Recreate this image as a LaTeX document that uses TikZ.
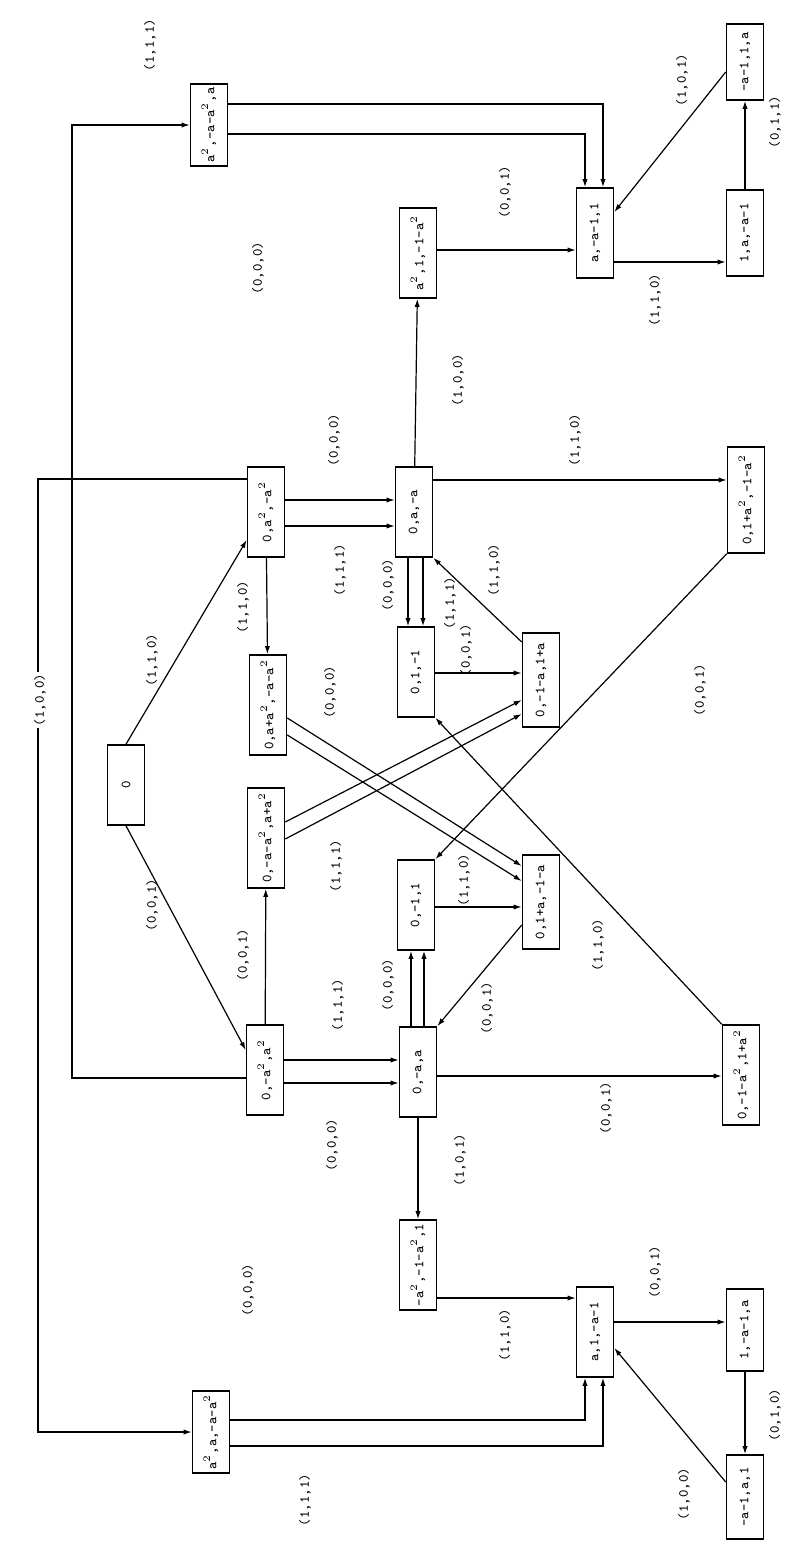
\documentclass[tikz,border=0pt]{standalone}
\usepackage{graphicx}
\usetikzlibrary{arrows.meta}
\newcommand{\rot}[1]{\rotatebox{90}{#1}}

\begin{document}
\begin{tikzpicture}[x=0.5pt, y=-0.5pt, font=\ttfamily\fontsize{7}{8}\selectfont,
  state/.style={draw, line width=0.8pt, minimum width=18.5pt, minimum height=45pt, inner sep=1pt},
  lbl/.style={inner sep=1pt},
  flow/.style={-{Latex[length=4pt,width=2.6pt]}, line width=0.6pt}]
\useasboundingbox (0,0) rectangle (789,1562);
% states
\node[state, minimum height=40pt] (n0) at (126,785) {\rot{0}};
\node[state] (nB) at (266,512) {\rot{0,a$^2$,-a$^2$}};
\node[state] (nA) at (265,1070) {\rot{0,-a$^2$,a$^2$}};
\node[state, minimum height=50pt] (n5) at (268,705) {\rot{0,a+a$^2$,-a-a$^2$}};
\node[state, minimum height=50pt] (n4) at (266,838) {\rot{0,-a-a$^2$,a+a$^2$}};
\node[state] (nD) at (414,512) {\rot{0,a,-a}};
\node[state] (nC) at (418,1072) {\rot{0,-a,a}};
\node[state] (n9) at (416,672) {\rot{0,1,-1}};
\node[state] (n8) at (416,905) {\rot{0,-1,1}};
\node[state, minimum height=47pt] (n11) at (541,680) {\rot{0,-1-a,1+a}};
\node[state, minimum height=47pt] (n10) at (541,902) {\rot{0,1+a,-1-a}};
\node[state, minimum height=53pt] (n13) at (746,500) {\rot{0,1+a$^2$,-1-a$^2$}};
\node[state, minimum height=50pt] (n12) at (741,1075) {\rot{0,-1-a$^2$,1+a$^2$}};
\node[state] (n15) at (418,253) {\rot{a$^2$,1,-1-a$^2$}};
\node[state] (n14) at (418,1265) {\rot{-a$^2$,-1-a$^2$,1}};
\node[state, minimum height=41pt] (n17) at (209,125) {\rot{a$^2$,-a-a$^2$,a}};
\node[state, minimum height=41pt] (n16) at (211,1432) {\rot{a$^2$,a,-a-a$^2$}};
\node[state] (n19) at (595,233) {\rot{a,-a-1,1}};
\node[state] (n18) at (595,1332) {\rot{a,1,-a-1}};
\node[state, minimum height=43pt] (n22) at (745,233) {\rot{1,a,-a-1}};
\node[state, minimum height=41pt] (n20) at (745,1330) {\rot{1,-a-1,a}};
\node[state, minimum height=38pt] (n23) at (745,62) {\rot{-a-1,1,a}};
\node[state, minimum height=42pt] (n21) at (745,1497) {\rot{-a-1,a,1}};
% start
\draw[flow] (n0.south) -- (nA.west |- 0,1050);
\draw[flow] (n0.north) -- (nB.west |- 0,540);
\node[lbl] (l1) at (152,905) {\rot{(0,0,1)}};
\node[lbl] (l2) at (152,660) {\rot{(1,1,0)}};
% second column
\draw[flow] (nA.east |- 0,1060) -- (nC.west |- 0,1060);
\draw[flow] (nA.east |- 0,1083) -- (nC.west |- 0,1083);
\draw[flow] (nB.east |- 0,500) -- (nD.west |- 0,500);
\draw[flow] (nB.east |- 0,526) -- (nD.west |- 0,526);
\node[lbl] (l3) at (338,1005) {\rot{(1,1,1)}};
\node[lbl] (l4) at (332,1145) {\rot{(0,0,0)}};
\node[lbl] (l5) at (334,440) {\rot{(0,0,0)}};
\node[lbl] (l6) at (340,570) {\rot{(1,1,1)}};
\draw[flow] (nA) -- (n4);
\draw[flow] (nB) -- (n5);
\node[lbl] (l7) at (243,955) {\rot{(0,0,1)}};
\node[lbl] (l8) at (243,607) {\rot{(1,1,0)}};
\draw[flow] (nA.west |- 0,1078) -- (72,1078) |- (n17.west);
\draw[flow] (nB.west |- 0,479) -- (38,479) |- (n16.west);
\node[lbl, fill=white] (l9) at (40,700) {\rot{(1,0,0)}};
% crossing
\draw[flow] (n5.east |- 0,718) -- (n10.west |- 0,866);
\draw[flow] (n5.east |- 0,735) -- (n10.west |- 0,881);
\draw[flow] (n4.east |- 0,822) -- (n11.west |- 0,700);
\draw[flow] (n4.east |- 0,839) -- (n11.west |- 0,714);
\node[lbl] (l10) at (330,692) {\rot{(0,0,0)}};
\node[lbl] (l11) at (336,866) {\rot{(1,1,1)}};
% inner square
\draw[flow] (nD.south -| 408,0) -- (n9.north -| 408,0);
\draw[flow] (nD.south -| 423,0) -- (n9.north -| 423,0);
\draw[flow] (nC.north -| 411,0) -- (n8.south -| 411,0);
\draw[flow] (nC.north -| 424,0) -- (n8.south -| 424,0);
\node[lbl] (l12) at (388,585) {\rot{(0,0,0)}};
\node[lbl] (l13) at (450,603) {\rot{(1,1,1)}};
\node[lbl] (l14) at (388,985) {\rot{(0,0,0)}};
\draw[flow] (n9.east |- 0,673) -- (n11.west |- 0,673);
\node[lbl] (l15) at (466,650) {\rot{(0,0,1)}};
\draw[flow] (n11.west |- 0,642) -- (nD.south east);
\node[lbl] (l16) at (494,570) {\rot{(1,1,0)}};
\draw[flow] (n8.east |- 0,907) -- (n10.west |- 0,907);
\node[lbl] (l17) at (464,880) {\rot{(1,1,0)}};
\draw[flow] (n10.west |- 0,925) -- (nC.north east);
\node[lbl] (l18) at (487,1008) {\rot{(0,0,1)}};
% outer diagonals
\draw[flow] (nD.east |- 0,480) -- (n13.west |- 0,480);
\node[lbl] (l19) at (575,440) {\rot{(1,1,0)}};
\draw[flow] (nC.east |- 0,1076) -- (n12.west |- 0,1076);
\node[lbl] (l20) at (606,1108) {\rot{(0,0,1)}};
\draw[flow] (n13.south west) -- (n8.north east);
\node[lbl] (l21) at (700,690) {\rot{(0,0,1)}};
\draw[flow] (n12.north west) -- (n9.south east);
\node[lbl] (l22) at (598,945) {\rot{(1,1,0)}};
% top part
\draw[flow] (nD) -- (n15);
\node[lbl] (l23) at (458,380) {\rot{(1,0,0)}};
\draw[flow] (n15.east |- 0,250) -- (n19.west |- 0,250);
\node[lbl] (l24) at (505,192) {\rot{(0,0,1)}};
\draw[flow] (n17.east |- 0,104) -- (603,104) -- (n19.north -| 603,0);
\draw[flow] (n17.east |- 0,134) -- (585,134) -- (n19.north -| 585,0);
\node[lbl] (l25) at (150,45) {\rot{(1,1,1)}};
\node[lbl] (l26) at (258,268) {\rot{(0,0,0)}};
\draw[flow] (n19.east |- 0,262) -- (n22.west |- 0,262);
\node[lbl] (l27) at (655,300) {\rot{(1,1,0)}};
\draw[flow] (n22) -- (n23);
\node[lbl] (l28) at (775,122) {\rot{(0,1,1)}};
\draw[flow] (n23.west |- 0,72) -- (n19.east |- 0,212);
\node[lbl] (l29) at (682,80) {\rot{(1,0,1)}};
% bottom part
\draw[flow] (nC) -- (n14);
\node[lbl] (l30) at (460,1160) {\rot{(1,0,1)}};
\draw[flow] (n14.east |- 0,1298) -- (n18.west |- 0,1298);
\node[lbl] (l31) at (505,1335) {\rot{(1,1,0)}};
\draw[flow] (n16.east |- 0,1420) -- (585,1420) -- (n18.south -| 585,0);
\draw[flow] (n16.east |- 0,1446) -- (603,1446) -- (n18.south -| 603,0);
\node[lbl] (l32) at (248,1290) {\rot{(0,0,0)}};
\node[lbl] (l33) at (305,1500) {\rot{(1,1,1)}};
\draw[flow] (n18.east |- 0,1322) -- (n20.west |- 0,1322);
\node[lbl] (l34) at (655,1272) {\rot{(0,0,1)}};
\draw[flow] (n20) -- (n21);
\node[lbl] (l35) at (775,1415) {\rot{(0,1,0)}};
\draw[flow] (n21.west |- 0,1482) -- (n18.east |- 0,1348);
\node[lbl] (l36) at (684,1494) {\rot{(1,0,0)}};
\end{tikzpicture}
\end{document}
